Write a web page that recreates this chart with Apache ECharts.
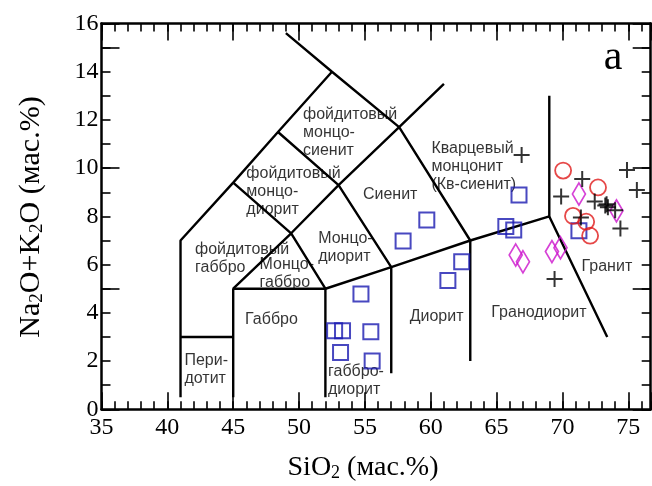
<!DOCTYPE html>
<html>
<head>
<meta charset="utf-8">
<script src="https://cdn.jsdelivr.net/npm/echarts@6/dist/echarts.min.js"></script>
<style>
  html, body { margin: 0; padding: 0; background: #fff; }
  #chart { width: 652px; height: 486px; }
</style>
</head>
<body>
<div id="chart"></div>
<script>
// Axis ranges (SiO2 and Na2O+K2O, wt.%)
const xRange = [35, 76.7];
const yRange = [0, 16];
const xLabelStep = 5;
const yLabelStep = 2;

// Field boundaries of the TAS classification, as polylines [SiO2, Na2O+K2O]
const boundaries = [
  [[41, 0.5], [41, 7], [45, 9.4], [48.4, 11.5], [52.5, 14]],
  [[49, 15.6], [52.5, 14], [57.6, 11.7], [61, 13.5]],
  [[41, 3], [45, 3]],
  [[45, 0.5], [45, 5], [52, 5], [52, 0.5]],
  [[45, 5], [49.4, 7.3], [52, 5]],
  [[45, 9.4], [49.4, 7.3], [53, 9.3], [57.6, 11.7], [63, 7]],
  [[48.4, 11.5], [53, 9.3], [57, 5.9]],
  [[52, 5], [57, 5.9], [63, 7], [69, 8], [73.4, 3]],
  [[57, 5.9], [57, 1.5]],
  [[63, 7], [63, 2]],
  [[69, 8], [69, 13]]
];

// Field names, anchored at the left / middle of each text block
const fieldNames = [
  [50.3, 11.46, 'фойдитовый\nмонцо-\nсиенит'],
  [46.0, 9.02, 'фойдитовый\nмонцо-\nдиорит'],
  [54.85, 8.89, 'Сиенит'],
  [60.05, 10.07, 'Кварцевый\nмонцонит\n(Кв-сиенит)'],
  [51.45, 6.71, 'Монцо-\nдиорит'],
  [42.1, 6.24, 'фойдитовый\nгаббро'],
  [47.0, 5.63, 'Монцо-\nгаббро'],
  [45.9, 3.73, 'Габбро'],
  [41.3, 1.63, 'Пери-\nдотит'],
  [52.2, 1.17, 'габбро-\nдиорит'],
  [58.4, 3.84, 'Диорит'],
  [64.6, 4.01, 'Гранодиорит'],
  [71.45, 5.92, 'Гранит']
];

// Sample compositions [SiO2, Na2O+K2O]
const squares = [
  [59.7, 7.85], [57.9, 6.98], [66.7, 8.89], [65.7, 7.58], [66.3, 7.44],
  [62.35, 6.12], [61.3, 5.34], [54.7, 4.78], [52.7, 3.26], [53.3, 3.26],
  [55.45, 3.22], [53.15, 2.36], [55.55, 2.0], [71.25, 7.41]
];
const diamonds = [
  [66.45, 6.4], [67.0, 6.12], [69.2, 6.54], [69.85, 6.7], [71.25, 8.93], [74.1, 8.23]
];
const circles = [
  [70.05, 9.9], [72.7, 9.2], [70.8, 8.02], [71.8, 7.78], [72.1, 7.2]
];
const crosses = [
  [66.9, 10.55], [71.5, 9.55], [69.9, 8.83], [72.45, 8.62], [74.9, 9.92],
  [75.65, 9.1], [73.25, 8.45], [73.45, 8.38], [73.35, 8.5], [74.0, 8.25],
  [74.4, 7.5], [71.4, 7.95], [69.4, 5.4]
];

const serif = '"Liberation Serif", "Times New Roman", serif';
const sans = '"Liberation Sans", Arial, sans-serif';
const black = '#000';

function axis(dim, position, interval, tickLen, opts) {
  const range = dim === 'x' ? xRange : yRange;
  return Object.assign({
    type: 'value',
    position: position,
    min: range[0],
    max: range[1],
    interval: interval,
    splitLine: { show: false },
    axisLine: { show: false, onZero: false },
    axisTick: tickLen > 0
      ? { show: true, inside: true, length: tickLen, lineStyle: { color: black, width: 1.6 } }
      : { show: false },
    axisLabel: { show: false }
  }, opts || {});
}

const frameLine = { show: true, onZero: false, lineStyle: { color: black, width: 2.5 } };

const xAxes = [
  axis('x', 'bottom', xLabelStep, 17, {
    axisLine: frameLine,
    axisLabel: {
      show: true, margin: 6, color: black, fontFamily: serif, fontSize: 24,
      formatter: v => (v % xLabelStep === 0 ? String(v) : '')
    }
  }),
  axis('x', 'bottom', 1, 8),
  axis('x', 'top', xLabelStep, 17, { axisLine: frameLine }),
  axis('x', 'top', 1, 8)
];

const yAxes = [
  axis('y', 'left', yLabelStep, 0, {
    axisLine: frameLine,
    axisLabel: {
      show: true, margin: 3, color: black, fontFamily: serif, fontSize: 24,
      formatter: v => (v % yLabelStep === 0 ? String(v) : '')
    }
  }),
  axis('y', 'left', 5, 18),
  axis('y', 'left', 1, 9),
  axis('y', 'right', 5, 18, { axisLine: frameLine }),
  axis('y', 'right', 1, 9)
];

const boundarySeries = boundaries.map(pts => ({
  type: 'line',
  data: pts,
  symbol: 'none',
  silent: true,
  animation: false,
  lineStyle: { color: black, width: 2.4 },
  z: 2
}));

function openMarkers(data, symbol, size, color, width) {
  return {
    type: 'scatter',
    data: data,
    symbol: symbol,
    symbolSize: size,
    animation: false,
    itemStyle: { color: 'rgba(0,0,0,0)', borderColor: color, borderWidth: width },
    z: 4
  };
}

const option = {
  backgroundColor: '#fff',
  animation: false,
  grid: { left: 101.5, right: 1.3, top: 23.5, bottom: 76.7, containLabel: false, outerBoundsMode: 'none' },
  xAxis: xAxes,
  yAxis: yAxes,
  series: boundarySeries.concat([
    {
      type: 'scatter',
      data: fieldNames.map(d => ({ value: [d[0], d[1]], name: d[2] })),
      symbolSize: 0,
      silent: true,
      animation: false,
      itemStyle: { color: 'rgba(0,0,0,0)' },
      label: {
        show: true,
        position: 'right',
        distance: 0,
        align: 'left',
        verticalAlign: 'middle',
        formatter: p => p.name,
        color: black,
        textBorderWidth: 0,
        fontFamily: sans,
        fontSize: 16,
        lineHeight: 18
      },
      z: 3
    },
    openMarkers(squares, 'rect', [15, 15], '#1a1ab0', 2),
    openMarkers(diamonds, 'diamond', [13, 22], '#cc11cc', 1.8),
    openMarkers(circles, 'circle', 16, '#e01a1a', 1.8),
    openMarkers(crosses, 'path://M0,8H16M8,0V16', 16, '#000', 2)
  ]),
  graphic: [
    {
      type: 'text',
      x: 363, y: 468,
      style: {
        text: '{a|SiO}{s|2}{a| (мас.%)}',
        align: 'center', verticalAlign: 'middle',
        rich: {
          a: { fontFamily: serif, fontSize: 28, color: black, verticalAlign: 'bottom' },
          s: { fontFamily: serif, fontSize: 18, color: black, verticalAlign: 'bottom' }
        }
      }
    },
    {
      type: 'text',
      x: 31.5, y: 217,
      rotation: Math.PI / 2,
      style: {
        text: '{a|Na}{s|2}{a|O+K}{s|2}{a|O (мас.%)}',
        align: 'center', verticalAlign: 'middle',
        rich: {
          a: { fontFamily: serif, fontSize: 30, color: black, verticalAlign: 'bottom' },
          s: { fontFamily: serif, fontSize: 19, color: black, verticalAlign: 'bottom' }
        }
      }
    },
    {
      type: 'text',
      x: 613, y: 58,
      style: {
        text: 'а',
        align: 'center', verticalAlign: 'middle',
        fontFamily: serif, fontSize: 42, fill: black
      }
    }
  ]
};

const chart = echarts.init(document.getElementById('chart'), null, { renderer: 'canvas' });
chart.setOption(option);
</script>
</body>
</html>
